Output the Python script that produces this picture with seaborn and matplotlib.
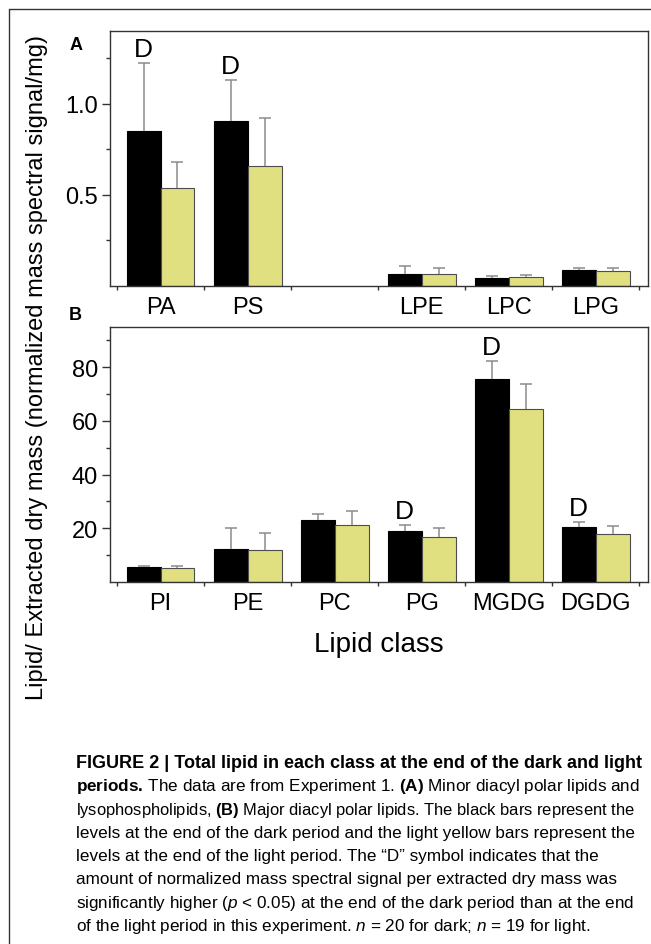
import numpy as np
import pandas as pd
import seaborn as sns
import matplotlib.pyplot as plt
from matplotlib import font_manager

sns.set_style("ticks")
plt.rcParams['font.family'] = ['Liberation Sans', 'DejaVu Sans']
plt.rcParams['text.color'] = 'black'
plt.rcParams['xtick.color'] = 'black'
plt.rcParams['ytick.color'] = 'black'

installed = {f.name for f in font_manager.fontManager.ttflist}
cap_font = 'Liberation Sans Narrow' if 'Liberation Sans Narrow' in installed else 'Liberation Sans'
plt.rcParams['mathtext.fontset'] = 'custom'
plt.rcParams['mathtext.rm'] = cap_font
plt.rcParams['mathtext.bf'] = cap_font + ':bold'
plt.rcParams['mathtext.it'] = cap_font + ':italic'

# panel A - minor diacyl polar lipids and lysophospholipids (empty slot between PS and LPE)
a_order = ["PA", "PS", "gap", "LPE", "LPC", "LPG"]
a_labels = ["PA", "PS", "", "LPE", "LPC", "LPG"]
a_lipids = ["PA", "PS", "LPE", "LPC", "LPG"]
a_dark = [0.85, 0.905, 0.066, 0.044, 0.086]
a_dark_err = [0.375, 0.225, 0.044, 0.011, 0.014]
a_light = [0.54, 0.66, 0.066, 0.050, 0.081]
a_light_err = [0.14, 0.265, 0.034, 0.008, 0.019]
a_sig = ["PA", "PS"]

# panel B - major diacyl polar lipids
b_order = ["PI", "PE", "PC", "PG", "MGDG", "DGDG"]
b_labels = b_order
b_lipids = b_order
b_dark = [5.5, 12.3, 23.0, 19.0, 75.7, 20.4]
b_dark_err = [0.3, 7.9, 2.2, 2.4, 6.8, 1.9]
b_light = [5.1, 11.9, 21.4, 16.7, 64.3, 17.8]
b_light_err = [1.0, 6.2, 4.9, 3.5, 9.6, 2.9]
b_sig = ["PG", "MGDG", "DGDG"]

periods = ["dark", "light"]
palette = {"dark": "black", "light": "#e0e080"}


def make_df(lipids, dark, dark_err, light, light_err):
    d1 = pd.DataFrame({"lipid": lipids, "period": "dark", "value": dark, "err": dark_err})
    d2 = pd.DataFrame({"lipid": lipids, "period": "light", "value": light, "err": light_err})
    return pd.concat([d1, d2], ignore_index=True)


def draw_panel(ax, df, order, labels, sig, ylim, major, minor, fmt):
    sns.barplot(data=df, x="lipid", y="value", hue="period", order=order,
                hue_order=periods, palette=palette, width=0.78, gap=0,
                errorbar=None, legend=False, ax=ax, saturation=1)
    present = [c for c in order if c in set(df.lipid)]
    for cont, period in zip(ax.containers, periods):
        sub = df[df.period == period].set_index("lipid").reindex(present)
        xs = []
        tops = []
        for bar in cont:
            if period == "dark":
                bar.set_edgecolor("black")
            else:
                bar.set_edgecolor("#4d4d4d")
            bar.set_linewidth(0.8)
            xs.append(bar.get_x() + bar.get_width() / 2)
            tops.append(bar.get_height())
        errs = sub.err.values
        _, caps, _ = ax.errorbar(xs, tops, yerr=[np.zeros(len(xs)), errs], fmt="none",
                                 ecolor="#8c8c8c", elinewidth=1.1, capsize=4.5,
                                 capthick=1.1, zorder=3)
        for c in caps:
            # only the upper cap is drawn
            if np.allclose(c.get_ydata(), tops):
                c.remove()
            else:
                c.set_color("#333333")
        if period == "dark":
            for x, t, e, lip in zip(xs, tops, errs, present):
                if lip in sig:
                    ax.annotate("D", (x, t + e), xytext=(0, 5), textcoords="offset points",
                                ha="center", va="baseline", fontsize=19)

    ax.set_xlim(-0.58, 5.60)
    ax.set_ylim(*ylim)
    ax.set_xticks(range(len(order)))
    ax.set_xticklabels(labels, fontsize=17)
    ax.set_xticks(np.arange(-0.5, len(order), 1), minor=True)
    ax.tick_params(axis="x", which="major", length=0, pad=7)
    ax.tick_params(axis="x", which="minor", length=3, width=1, direction="out", color="#333333")
    ax.set_yticks(major)
    ax.set_yticklabels([fmt.format(v) for v in major], fontsize=17)
    ax.set_yticks(minor, minor=True)
    ax.tick_params(axis="y", which="major", length=5.5, width=1, pad=3, color="#333333")
    ax.tick_params(axis="y", which="minor", length=3, width=1, color="#333333")
    ax.set_xlabel("")
    ax.set_ylabel("")
    for s in ax.spines.values():
        s.set_visible(True)
        s.set_color("#333333")
        s.set_linewidth(1)


fig = plt.figure(figsize=(6.51, 9.45), dpi=100)
ax_a = fig.add_axes([0.169, 0.6963, 0.8264, 0.2698])
ax_b = fig.add_axes([0.169, 0.3831, 0.8264, 0.2698])

df_a = make_df(a_lipids, a_dark, a_dark_err, a_light, a_light_err)
df_b = make_df(b_lipids, b_dark, b_dark_err, b_light, b_light_err)
draw_panel(ax_a, df_a, a_order, a_labels, a_sig, (0, 1.4), [0.5, 1.0], [0.25, 0.75, 1.25], "{:.1f}")
draw_panel(ax_b, df_b, b_order, b_labels, b_sig, (0, 95), [20, 40, 60, 80], [10, 30, 50, 70, 90], "{:.0f}")

W, H = 651, 945
fig.text(76 / W, 1 - 45 / H, "A", fontsize=13, fontweight="bold", ha="center", va="center")
fig.text(75 / W, 1 - 316 / H, "B", fontsize=13, fontweight="bold", ha="center", va="center")
fig.text(37 / W, 1 - 367 / H, "Lipid/ Extracted dry mass (normalized mass spectral signal/mg)",
         rotation=90, fontsize=17, ha="center", va="center")
fig.text(379 / W, 1 - 645 / H, "Lipid class", fontsize=20, ha="center", va="center")

# outer frame, open to the right and bottom
fig.add_artist(plt.Line2D([9 / W, 1], [1 - 10 / H, 1 - 10 / H], color="#333333", lw=1))
fig.add_artist(plt.Line2D([9 / W, 9 / W], [0, 1 - 10 / H], color="#333333", lw=1))

caption = [
    (r"FIGURE 2 | Total lipid in each class at the end of the dark and light", "bold", 13),
    (r"$\mathbf{periods.}\,$The data are from Experiment 1. $\mathbf{(A)}$ Minor diacyl polar lipids and", "normal", 12.3),
    (r"lysophospholipids, $\mathbf{(B)}$ Major diacyl polar lipids. The black bars represent the", "normal", 11.9),
    (r"levels at the end of the dark period and the light yellow bars represent the", "normal", 12.3),
    (r"levels at the end of the light period. The “D” symbol indicates that the", "normal", 12.3),
    (r"amount of normalized mass spectral signal per extracted dry mass was", "normal", 12.3),
    (r"significantly higher ($\mathit{p}$ < 0.05) at the end of the dark period than at the end", "normal", 12.3),
    (r"of the light period in this experiment. $\mathit{n}$ = 20 for dark; $\mathit{n}$ = 19 for light.", "normal", 12.3),
]
baselines = [768, 791, 814.5, 838, 861, 884.5, 908, 931]
for (line, weight, size), yb in zip(caption, baselines):
    fig.text(76 / W, 1 - yb / H, line, family=[cap_font, 'DejaVu Sans'], fontsize=size,
             fontweight=weight, ha="left", va="baseline")

fig.savefig("out.png", dpi=100)
